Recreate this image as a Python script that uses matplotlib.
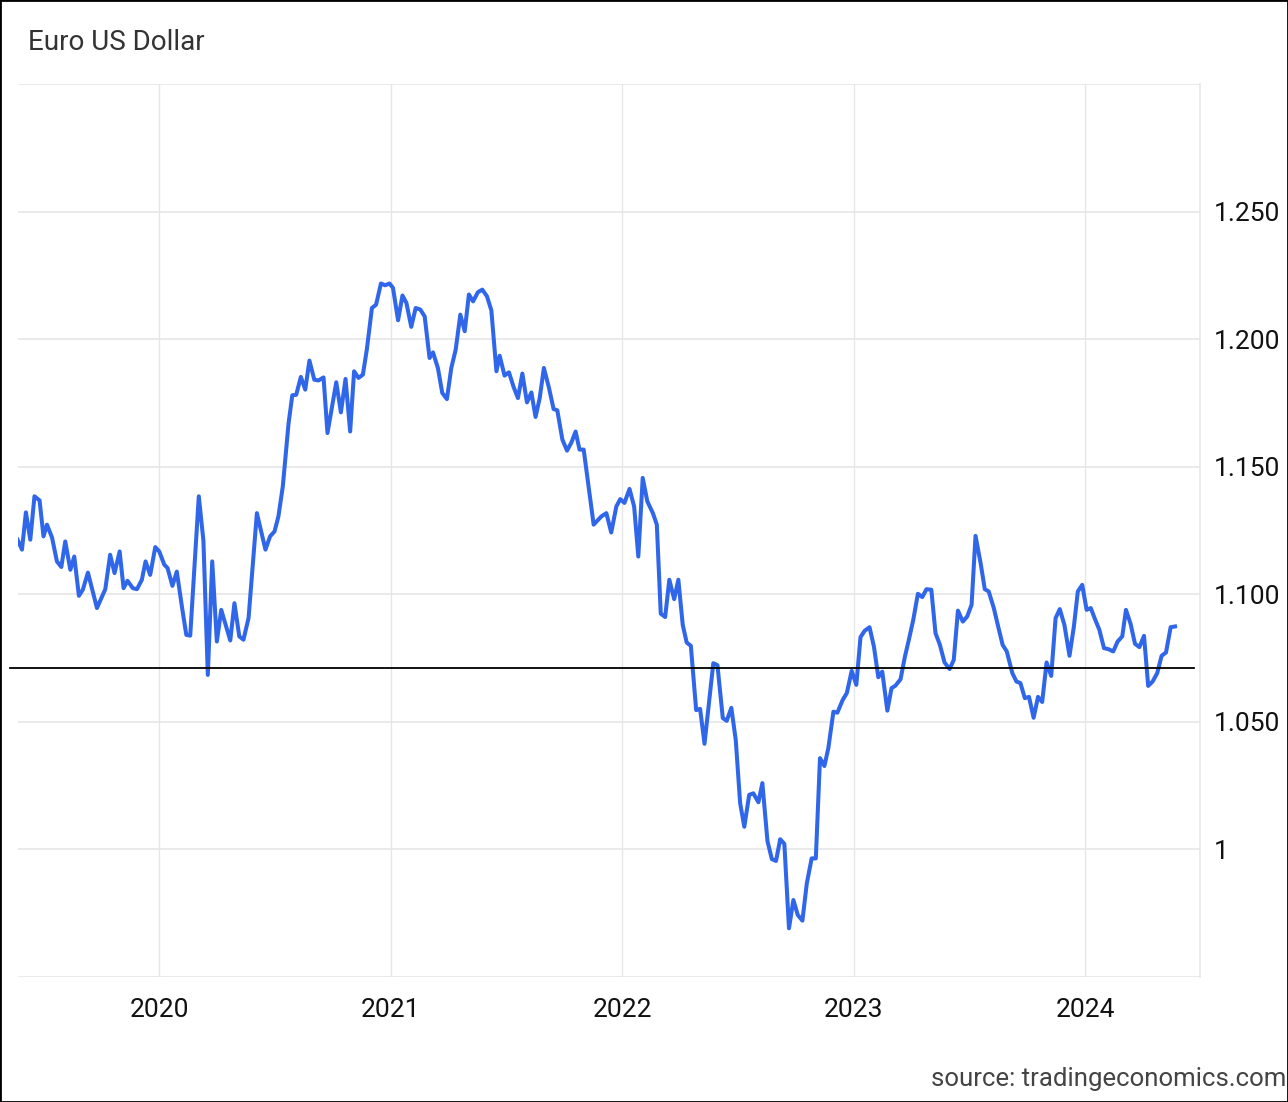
import matplotlib
matplotlib.use("Agg")
import matplotlib.pyplot as plt
from matplotlib.patches import Rectangle

# ---------------------------------------------------------
# Data: EUR/USD (decimal year, rate)
# ---------------------------------------------------------
years = [
    2019.388, 2019.407, 2019.424, 2019.443, 2019.461, 2019.483, 2019.500, 2019.515,
    2019.537, 2019.558, 2019.577, 2019.594, 2019.616, 2019.633, 2019.653, 2019.670,
    2019.692, 2019.731, 2019.767, 2019.788, 2019.807, 2019.829, 2019.846, 2019.863,
    2019.886, 2019.904, 2019.925, 2019.941, 2019.961, 2019.983, 2020.000, 2020.022,
    2020.036, 2020.057, 2020.076, 2020.098, 2020.117, 2020.134, 2020.171, 2020.191,
    2020.210, 2020.229, 2020.249, 2020.268, 2020.307, 2020.325, 2020.346, 2020.364,
    2020.386, 2020.422, 2020.459, 2020.479, 2020.498, 2020.515, 2020.534, 2020.559,
    2020.575, 2020.592, 2020.612, 2020.631, 2020.649, 2020.670, 2020.688, 2020.710,
    2020.727, 2020.765, 2020.785, 2020.805, 2020.825, 2020.842, 2020.861, 2020.880,
    2020.897, 2020.919, 2020.937, 2020.958, 2020.976, 2020.995, 2021.010, 2021.032,
    2021.051, 2021.068, 2021.089, 2021.108, 2021.128, 2021.147, 2021.168, 2021.183,
    2021.204, 2021.223, 2021.243, 2021.262, 2021.281, 2021.301, 2021.320, 2021.338,
    2021.356, 2021.377, 2021.396, 2021.416, 2021.435, 2021.457, 2021.471, 2021.492,
    2021.511, 2021.531, 2021.550, 2021.569, 2021.589, 2021.608, 2021.626, 2021.644,
    2021.662, 2021.684, 2021.704, 2021.720, 2021.742, 2021.762, 2021.781, 2021.799,
    2021.816, 2021.834, 2021.877, 2021.910, 2021.932, 2021.953, 2021.975, 2021.992,
    2022.010, 2022.032, 2022.052, 2022.070, 2022.089, 2022.109, 2022.133, 2022.150,
    2022.167, 2022.186, 2022.204, 2022.225, 2022.243, 2022.262, 2022.279, 2022.297,
    2022.320, 2022.337, 2022.356, 2022.394, 2022.412, 2022.435, 2022.452, 2022.472,
    2022.491, 2022.510, 2022.528, 2022.549, 2022.567, 2022.589, 2022.606, 2022.628,
    2022.647, 2022.665, 2022.683, 2022.701, 2022.721, 2022.740, 2022.759, 2022.779,
    2022.798, 2022.819, 2022.837, 2022.855, 2022.874, 2022.891, 2022.913, 2022.930,
    2022.953, 2022.971, 2022.992, 2023.012, 2023.030, 2023.048, 2023.069, 2023.088,
    2023.107, 2023.124, 2023.146, 2023.164, 2023.181, 2023.203, 2023.222, 2023.239,
    2023.258, 2023.278, 2023.297, 2023.315, 2023.336, 2023.354, 2023.373, 2023.393,
    2023.415, 2023.433, 2023.451, 2023.472, 2023.491, 2023.510, 2023.527, 2023.549,
    2023.567, 2023.584, 2023.606, 2023.625, 2023.644, 2023.662, 2023.686, 2023.704,
    2023.721, 2023.740, 2023.758, 2023.778, 2023.797, 2023.815, 2023.834, 2023.854,
    2023.873, 2023.891, 2023.911, 2023.933, 2023.952, 2023.969, 2023.988, 2024.007,
    2024.025, 2024.043, 2024.062, 2024.082, 2024.101, 2024.122, 2024.141, 2024.161,
    2024.177, 2024.197, 2024.216, 2024.235, 2024.255, 2024.273, 2024.292, 2024.312,
    2024.331, 2024.350, 2024.370, 2024.389,
]

eurusd = [
    1.1214, 1.1175, 1.1321, 1.1214, 1.1384, 1.1368, 1.1227, 1.1273,
    1.1222, 1.1129, 1.1107, 1.1207, 1.1096, 1.1148, 1.0994, 1.1018,
    1.1085, 1.0946, 1.1020, 1.1155, 1.1083, 1.1168, 1.1024, 1.1053,
    1.1024, 1.1020, 1.1057, 1.1129, 1.1076, 1.1185, 1.1168, 1.1116,
    1.1103, 1.1033, 1.1089, 1.0952, 1.0841, 1.0838, 1.1384, 1.1210,
    1.0684, 1.1129, 1.0815, 1.0939, 1.0819, 1.0965, 1.0835, 1.0822,
    1.0907, 1.1318, 1.1175, 1.1227, 1.1246, 1.1305, 1.1423, 1.1671,
    1.1780, 1.1782, 1.1852, 1.1802, 1.1916, 1.1841, 1.1838, 1.1850,
    1.1632, 1.1831, 1.1713, 1.1844, 1.1638, 1.1874, 1.1848, 1.1861,
    1.1959, 1.2122, 1.2135, 1.2218, 1.2211, 1.2218, 1.2201, 1.2074,
    1.2171, 1.2142, 1.2048, 1.2122, 1.2116, 1.2089, 1.1926, 1.1948,
    1.1887, 1.1789, 1.1765, 1.1887, 1.1959, 1.2096, 1.2031, 1.2175,
    1.2148, 1.2184, 1.2194, 1.2168, 1.2113, 1.1874, 1.1935, 1.1857,
    1.1870, 1.1813, 1.1769, 1.1865, 1.1752, 1.1791, 1.1695, 1.1769,
    1.1887, 1.1809, 1.1726, 1.1721, 1.1606, 1.1563, 1.1595, 1.1638,
    1.1567, 1.1567, 1.1273, 1.1305, 1.1318, 1.1242, 1.1344, 1.1373,
    1.1358, 1.1413, 1.1344, 1.1148, 1.1456, 1.1364, 1.1318, 1.1273,
    1.0924, 1.0911, 1.1057, 1.0981, 1.1057, 1.0880, 1.0811, 1.0798,
    1.0546, 1.0551, 1.0414, 1.0730, 1.0722, 1.0515, 1.0504, 1.0555,
    1.0429, 1.0181, 1.0089, 1.0214, 1.0220, 1.0185, 1.0260, 1.0033,
    0.9962, 0.9955, 1.0040, 1.0022, 0.9691, 0.9802, 0.9743, 0.9721,
    0.9867, 0.9965, 0.9965, 1.0358, 1.0327, 1.0397, 1.0540, 1.0536,
    1.0586, 1.0613, 1.0700, 1.0645, 1.0832, 1.0857, 1.0871, 1.0795,
    1.0675, 1.0697, 1.0544, 1.0632, 1.0642, 1.0667, 1.0756, 1.0822,
    1.0900, 1.1002, 1.0989, 1.1020, 1.1018, 1.0848, 1.0802, 1.0733,
    1.0707, 1.0743, 1.0936, 1.0893, 1.0913, 1.0959, 1.1229, 1.1122,
    1.1020, 1.1011, 1.0946, 1.0873, 1.0802, 1.0776, 1.0691, 1.0658,
    1.0652, 1.0593, 1.0598, 1.0516, 1.0598, 1.0578, 1.0733, 1.0680,
    1.0907, 1.0942, 1.0880, 1.0759, 1.0874, 1.1011, 1.1037, 1.0939,
    1.0946, 1.0903, 1.0861, 1.0789, 1.0785, 1.0776, 1.0815, 1.0835,
    1.0939, 1.0884, 1.0806, 1.0793, 1.0837, 1.0641, 1.0658, 1.0691,
    1.0759, 1.0772, 1.0871, 1.0874,
]

ref_level = 1.0712
year_ticks = [2020, 2021, 2022, 2023, 2024]
y_grid = [0.95, 1.00, 1.05, 1.10, 1.15, 1.20, 1.25, 1.30]
y_labels = ["", "1", "1.050", "1.100", "1.150", "1.200", "1.250", ""]

# ---------------------------------------------------------
# Plot
# ---------------------------------------------------------
plt.rcParams["font.family"] = ["Roboto", "DejaVu Sans"]

fig = plt.figure(figsize=(12.88, 11.02), dpi=100)
ax = fig.add_axes([0.014, 0.1134, 0.9177, 0.8104])

grid_color = "#e6e6e6"
for y in y_grid:
    ax.axhline(y, color=grid_color, linewidth=1.2, zorder=0)
for x in year_ticks:
    ax.axvline(x, color=grid_color, linewidth=1.0, zorder=0)

ax.plot(years, eurusd, color="#2f66ea", linewidth=2.9, zorder=3,
        solid_joinstyle="round")
ax.plot([2019.355, 2024.47], [ref_level, ref_level], color="black",
        linewidth=1.3, zorder=4, clip_on=False)

ax.set_xlim(2019.39, 2024.497)
ax.set_ylim(0.95, 1.30)

ax.set_xticks(year_ticks)
ax.set_xticklabels([str(y) for y in year_ticks])
ax.set_yticks(y_grid)
ax.set_yticklabels(y_labels)
ax.yaxis.tick_right()
ax.tick_params(axis="both", length=0, labelsize=19, colors="#111111")
ax.tick_params(axis="x", pad=15)
ax.tick_params(axis="y", pad=10)

for side in ["top", "left", "bottom"]:
    ax.spines[side].set_visible(False)
ax.spines["right"].set_color(grid_color)
ax.spines["right"].set_linewidth(1.2)

fig.text(0.0217, 0.961, "Euro US Dollar", fontsize=20, color="#333333",
         ha="left", va="center")
fig.text(0.999, 0.021, "source: tradingeconomics.com", fontsize=18.5,
         color="#444444", ha="right", va="center")

fig.patches.append(Rectangle((0, 0), 1, 1, transform=fig.transFigure,
                             fill=False, edgecolor="black", linewidth=2))

fig.savefig("out.png", dpi=100, facecolor="white")
